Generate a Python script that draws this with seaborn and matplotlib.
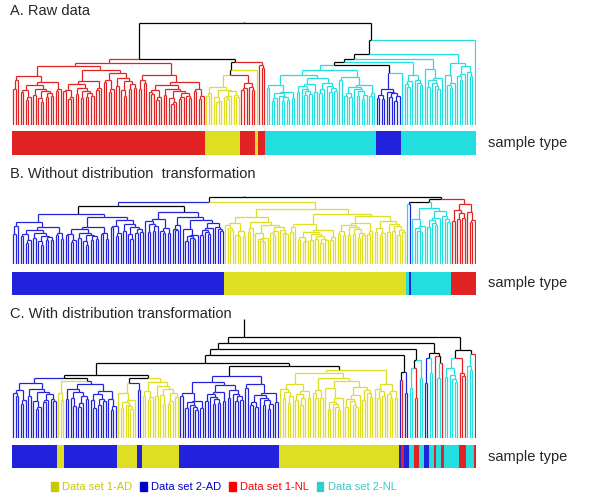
import numpy as np
import matplotlib
matplotlib.use("Agg")
import matplotlib.pyplot as plt
import seaborn as sns
from matplotlib.collections import LineCollection
from matplotlib.colors import ListedColormap
from matplotlib.patches import Patch

# sample classes: y = Data set 1-AD, b = Data set 2-AD, r = Data set 1-NL, c = Data set 2-NL
CLASS_KEYS = ["y", "b", "r", "c"]
CLASS_COLORS = ["#DEDE22", "#2222DD", "#E02222", "#22DEDE"]
LEGEND_LABELS = ["Data set 1-AD", "Data set 2-AD", "Data set 1-NL", "Data set 2-NL"]
LEGEND_COLORS = ["#C8C800", "#0000CC", "#FF0000", "#33CCCC"]

# sample-type bars (runs of leaves, left to right)
A_SEG_CLASS = ["r", "y", "r", "y", "r", "c", "b", "c"]
A_SEG_COUNT = [77, 14, 6, 1, 3, 44, 10, 30]
B_SEG_CLASS = ["b", "y", "c", "b", "c", "r"]
B_SEG_COUNT = [85, 73, 1, 1, 16, 10]
C_SEG_CLASS = ["b", "y", "b", "y", "b", "y", "b", "y", "b", "r", "b", "c", "r", "c",
               "b", "c", "r", "c", "r", "c", "r", "c", "r"]
C_SEG_COUNT = [18, 3, 21, 8, 2, 15, 40, 48, 1, 1, 2, 2, 2, 2,
               2, 2, 1, 2, 1, 6, 3, 3, 1]

# dendrograms: [merge height, left, right, ("k" = black links)] ; (class, n leaves, top height)
A_TREE = [102,
          [66, ("r", 77, 62), [63, [55, [50, ("y", 14, 38), ("r", 6, 42)], ("y", 1)], ("r", 3, 60)]],
          [85, [71, [66, [63, [60, ("c", 44, 55), [52, ("b", 10, 36), ("c", 1)]],
                          ("c", 8, 50)], ("c", 8, 56)], ("c", 12, 62)], ("c", 1)]]
B_TREE = [67,
          [62, [58, ("b", 53, 50), ("b", 32, 52), "k"], [55, ("y", 26, 47), ("y", 47, 50)]],
          [65, [62, [60, ("c", 1), ("b", 1)], ("c", 16, 56)], ("r", 10, 60)]]
C_TREE = [101,
          [95, [89, [83, [75, [63, [60, ("b", 18, 55), [57, ("y", 3, 45), ("b", 21, 54)]],
                                   [60, [55, ("y", 8, 45), ("b", 2, 48)], ("y", 15, 56)]],
                              [72, ("b", 40, 62), ("y", 48, 68), "k"]],
                         [66, [58, ("b", 1), ("r", 1)], ("b", 2, 45)]],
                    [78, [70, ("c", 2, 50), ("r", 2, 40)], ("c", 2, 60)]],
               [85, [80, ("b", 2, 55), ("c", 2, 65)], [82, ("r", 1), [75, ("c", 2, 60), ("r", 1)]]]],
          [88, [80, ("c", 6, 70), ("r", 3, 65)], [84, ("c", 3, 72), ("r", 1)]]]

# fine structure inside single-class clusters (not readable at this size)
SPLIT_PATTERN = [0.5, 0.2, 0.65, 0.4, 0.15, 0.55, 0.8, 0.35]
DROP_PATTERN = [0.93, 0.87, 0.95, 0.84, 0.9, 0.8]


def grow(cls, n, top, k=0):
    if n == 1:
        return {"h": 0, "cls": cls, "kids": [], "black": False}
    a = int(round(n * SPLIT_PATTERN[k % len(SPLIT_PATTERN)]))
    a = min(max(a, 1), n - 1)
    left = grow(cls, a, top * DROP_PATTERN[k % len(DROP_PATTERN)], k + 1)
    right = grow(cls, n - a, top * DROP_PATTERN[(k + 3) % len(DROP_PATTERN)], k + 2)
    return {"h": top, "kids": [left, right], "black": False}


def expand(spec, k=0):
    if isinstance(spec, tuple):
        return grow(spec[0], spec[1], spec[2] if len(spec) > 2 else 0, k)
    return {"h": spec[0], "kids": [expand(spec[1], k + 1), expand(spec[2], k + 5)],
            "black": len(spec) > 3}


def layout(node, pos):
    if not node["kids"]:
        node["x"] = node["lo"] = node["hi"] = pos[0] + 0.5
        pos[0] += 1
        node["classes"] = {node["cls"]}
        return
    for kid in node["kids"]:
        layout(kid, pos)
    node["lo"] = node["kids"][0]["lo"]
    node["hi"] = node["kids"][-1]["hi"]
    node["x"] = (node["lo"] + node["hi"]) / 2
    node["classes"] = set().union(*[kid["classes"] for kid in node["kids"]])


def links(node, segs, cols):
    for kid in node["kids"]:
        if node["black"] or len(kid["classes"]) > 1:
            c = "black"
        else:
            c = CLASS_COLORS[CLASS_KEYS.index(next(iter(kid["classes"])))]
        segs.append([(kid["x"], kid["h"]), (kid["x"], node["h"])])
        segs.append([(kid["x"], node["h"]), (node["x"], node["h"])])
        cols += [c, c]
        links(kid, segs, cols)


def px_axes(fig, left, top, right, bottom):
    W, H = 600, 499
    return fig.add_axes([left / W, 1 - bottom / H, (right - left) / W, (bottom - top) / H])


sns.set_style("white")
plt.rcParams["font.family"] = ["Liberation Sans", "DejaVu Sans"]

fig = plt.figure(figsize=(6, 4.99), dpi=100)

panels = [
    ("A. Raw data", 15, A_TREE, A_SEG_CLASS, A_SEG_COUNT, (20, 125), (131, 155), 1),
    ("B. Without distribution  transformation", 178, B_TREE, B_SEG_CLASS, B_SEG_COUNT,
     (190, 264), (272, 295), 1),
    ("C. With distribution transformation", 318, C_TREE, C_SEG_CLASS, C_SEG_COUNT,
     (318, 438), (445, 468), 18),
]

for title, title_y, tree, seg_cls, seg_n, (d_top, d_bot), (b_top, b_bot), stub in panels:
    fig.text(10 / 600, 1 - title_y / 499, title, fontsize=10.5, va="baseline")

    root = expand(tree)
    layout(root, [0])
    n_leaves = sum(seg_n)
    segs, cols = [], []
    links(root, segs, cols)
    segs.append([(root["x"], root["h"]), (root["x"], root["h"] + stub)])
    cols.append("black")

    ax = px_axes(fig, 12, d_top, 476, d_bot)
    ax.add_collection(LineCollection(segs, colors=cols, linewidths=0.9))
    ax.set_xlim(0, n_leaves)
    ax.set_ylim(0, d_bot - d_top)
    ax.axis("off")

    codes = np.repeat([CLASS_KEYS.index(c) for c in seg_cls], seg_n)[None, :]
    bax = px_axes(fig, 12, b_top, 476, b_bot)
    sns.heatmap(codes, ax=bax, cmap=ListedColormap(CLASS_COLORS), vmin=-0.5, vmax=3.5,
                cbar=False, xticklabels=False, yticklabels=False)
    fig.text(488 / 600, 1 - ((b_top + b_bot) / 2) / 499, "sample type",
             fontsize=10.5, va="center")

handles = [Patch(color=c) for c in LEGEND_COLORS]
fig.legend(handles=handles, labels=LEGEND_LABELS, ncol=4, loc="center left",
           bbox_to_anchor=(51 / 600, 1 - 487 / 499), frameon=False, fontsize=8,
           handlelength=0.6, handleheight=0.9, handletextpad=0.4, columnspacing=0.7,
           borderpad=0, borderaxespad=0, labelcolor=LEGEND_COLORS)

fig.savefig("out.png", dpi=100)
